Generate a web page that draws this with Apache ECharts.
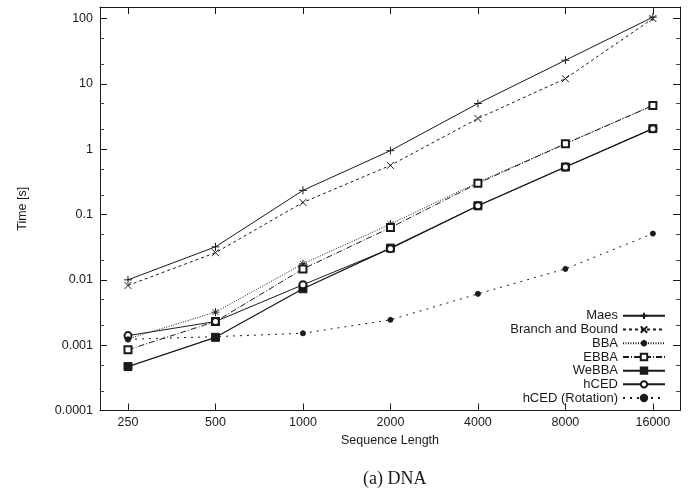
<!DOCTYPE html>
<html>
<head>
<meta charset="utf-8">
<script src="https://cdn.jsdelivr.net/npm/echarts@6/dist/echarts.min.js"></script>
<style>html,body{margin:0;padding:0;background:#fff}#c{width:691px;height:490px}</style>
</head>
<body>
<div id="c"></div>
<script>
const categories = ['250', '500', '1000', '2000', '4000', '8000', '16000'];
const yTickLabels = ['0.0001', '0.001', '0.01', '0.1', '1', '10', '100'];
const yMinorTicks = [0.0002, 0.0005, 0.002, 0.005, 0.02, 0.05, 0.2, 0.5, 2, 5, 20, 50];
const maes        = [0.0100, 0.032, 0.234, 0.95, 5.0, 23, 105];
const branchBound = [0.0082, 0.026, 0.153, 0.565, 2.95, 12.0, 100];
const bba         = [0.00125, 0.0032, 0.0176, 0.0714, 0.31, 1.22, 4.7];
const ebba        = [0.00085, 0.0023, 0.0147, 0.063, 0.30, 1.21, 4.64];
const webba       = [0.00047, 0.00132, 0.0073, 0.0306, 0.136, 0.533, 2.06];
const hced        = [0.00140, 0.0023, 0.0084, 0.030, 0.136, 0.533, 2.06];
const hcedRot     = [0.00123, 0.00135, 0.00152, 0.00244, 0.0061, 0.0147, 0.051];

const INK = '#1a1a1a';
const FONT = '"Liberation Sans", Arial, sans-serif';
const Y_MIN = 0.0001, Y_MAX = 150;
const idx = categories.map((c, i) => i);
const pts = arr => arr.map((v, i) => [i, v]);

const plus = 'path://M5,0L5,10M0,5L10,5';
const cross = 'path://M0,0L10,10M10,0L0,10';
const star = 'path://M5,0L5,10M0,5L10,5M1.5,1.5L8.5,8.5M8.5,1.5L1.5,8.5';

function series(name, data, symbol, size, lineType, width) {
  return {
    name, type: 'line', data: pts(data), symbol, symbolSize: size,
    showSymbol: true, xAxisIndex: 0, yAxisIndex: 0,
    lineStyle: { color: INK, width: width, type: lineType },
    itemStyle: { color: INK, borderColor: INK, borderWidth: 1 },
    emphasis: { disabled: true }
  };
}

const fmtY = v => {
  const l = Math.log10(v);
  const r = Math.round(l);
  if (Math.abs(l - r) > 1e-6) return '';
  return yTickLabels[r + 4] || '';
};

function minorAxis(pos) {
  const vals = yMinorTicks.map(v => Math.log10(v));
  return {
    type: 'value', min: Math.log10(Y_MIN), max: Math.log10(Y_MAX), position: pos, offset: 0,
    axisLine: { show: false, onZero: false },
    axisTick: { show: true, inside: true, length: 4, customValues: vals, lineStyle: { color: '#444', width: 1 } },
    axisLabel: { show: false, customValues: vals },
    splitLine: { show: false }
  };
}

const chart = echarts.init(document.getElementById('c'), null, { renderer: 'canvas' });
chart.setOption({
  animation: false,
  backgroundColor: '#fff',
  textStyle: { fontFamily: FONT, color: INK },
  title: {
    text: '(a) DNA', left: 358, top: 465,
    textStyle: { fontFamily: '"Liberation Serif", "Times New Roman", serif', fontSize: 18, fontWeight: 'normal', color: INK }
  },
  grid: { left: 100, right: 11, top: 7, bottom: 79.5 },
  legend: {
    orient: 'vertical', right: 20, top: 304, align: 'right',
    itemWidth: 42, itemHeight: 8, itemGap: 0,
    textStyle: { fontFamily: FONT, fontSize: 13, color: INK, lineHeight: 13.7 },
    selectedMode: false
  },
  xAxis: [{
    type: 'value', min: -0.32, max: 6.31, position: 'bottom',
    name: 'Sequence Length', nameLocation: 'middle', nameGap: 24,
    nameTextStyle: { fontFamily: FONT, fontSize: 12.5, color: INK },
    axisLine: { show: true, onZero: false, lineStyle: { color: INK, width: 1 } },
    axisTick: { show: true, inside: true, length: 7, customValues: idx, lineStyle: { color: INK } },
    axisLabel: { customValues: idx, formatter: v => categories[Math.round(v)], fontSize: 12.5, color: INK, margin: 6, fontFamily: FONT },
    splitLine: { show: false }
  }, {
    type: 'value', min: -0.32, max: 6.31, position: 'top',
    axisLine: { show: true, onZero: false, lineStyle: { color: INK, width: 1 } },
    axisTick: { show: true, inside: true, length: 7, customValues: idx, lineStyle: { color: INK } },
    axisLabel: { show: false },
    splitLine: { show: false }
  }],
  yAxis: [{
    type: 'log', logBase: 10, min: Y_MIN, max: Y_MAX, position: 'left', offset: 0,
    name: 'Time [s]', nameLocation: 'middle', nameGap: 71, nameRotate: 90,
    nameTextStyle: { fontFamily: FONT, fontSize: 12.5, color: INK },
    axisLine: { show: true, onZero: false, lineStyle: { color: INK, width: 1 } },
    axisTick: { show: true, inside: true, length: 7, lineStyle: { color: INK } },
    axisLabel: { formatter: fmtY, fontSize: 12.5, color: INK, margin: 7, fontFamily: FONT },
    splitLine: { show: false }
  }, {
    type: 'log', logBase: 10, min: Y_MIN, max: Y_MAX, position: 'right', offset: 0,
    axisLine: { show: true, onZero: false, lineStyle: { color: INK, width: 1 } },
    axisTick: { show: true, inside: true, length: 7, lineStyle: { color: INK } },
    axisLabel: { show: false },
    splitLine: { show: false }
  }, minorAxis('left'), minorAxis('right')],
  series: [
    series('Maes', maes, plus, 8, 'solid', 1),
    series('Branch and Bound', branchBound, cross, 7, [3, 3], 1),
    series('BBA', bba, star, 8, [1, 1.5], 1),
    series('EBBA', ebba, 'emptyRect', 7, [6, 2, 1, 2], 1),
    series('WeBBA', webba, 'rect', 8, 'solid', 1.3),
    series('hCED', hced, 'emptyCircle', 7, 'solid', 1),
    series('hCED (Rotation)', hcedRot, 'circle', 5, [2, 5], 1)
  ]
});
</script>
</body>
</html>
